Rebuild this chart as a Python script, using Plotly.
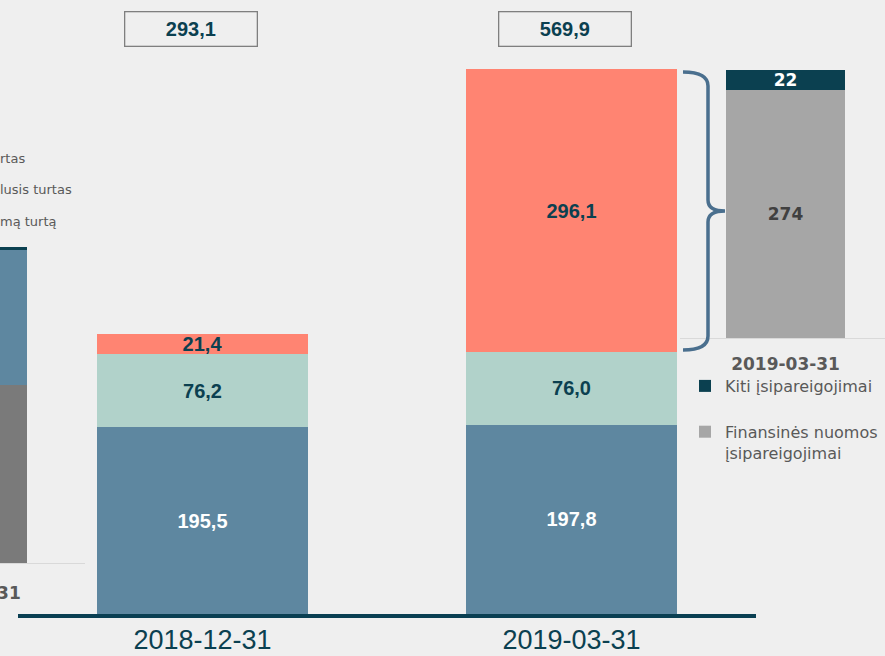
import plotly.graph_objects as go

W, H = 885, 656
def fx(px): return px / W
def fy(py): return 1 - py / H

# ---- data ----
dates = ["2018-12-31", "2019-03-31"]
blue_vals = [195.5, 197.8]
mint_vals = [76.2, 76.0]
salmon_vals = [21.4, 296.1]
totals = [b + m + s for b, m, s in zip(blue_vals, mint_vals, salmon_vals)]

right_cat = ["2019-03-31"]
fin_lease = [274]
other_liab = [22]
liab_names = ["Finansinės nuomos<br>įsipareigojimai", "Kiti įsipareigojimai"]

left_cat = ["2019-03-31"]
left_gray = [196]
left_blue = [149]
left_dark = [3.5]
left_legend = ["rtas", "lusis turtas", "mą turtą"]

BLUE = "#5E87A0"
MINT = "#B1D2CA"
SALMON = "#FF8472"
DARK = "#0B4050"
GRAYTXT = "#595959"

fig = go.Figure()

def main_bar(vals, color, txtcolor):
    fig.add_trace(go.Bar(
        x=dates, y=vals, marker=dict(color=color, line=dict(width=0)),
        width=0.57, texttemplate="%{y:.1f}", textposition="inside",
        insidetextanchor="middle", constraintext="none",
        textfont=dict(family="Liberation Sans, Arial", size=20, color=txtcolor, weight="bold"),
        showlegend=False, xaxis="x", yaxis="y", hoverinfo="skip"))

main_bar(blue_vals, BLUE, "white")
main_bar(mint_vals, MINT, DARK)
main_bar(salmon_vals, SALMON, DARK)

# right small chart
fig.add_trace(go.Bar(
    x=right_cat, y=fin_lease, name=liab_names[0], marker=dict(color="#A6A6A6", line=dict(width=0)),
    width=0.58, texttemplate="%{y:.0f}", textposition="inside", insidetextanchor="middle",
    constraintext="none",
    textfont=dict(family="DejaVu Sans", size=17, color="#404040", weight="bold"),
    xaxis="x2", yaxis="y2", legend="legend2", legendgroup="a", legendrank=2, hoverinfo="skip"))
fig.add_trace(go.Bar(
    x=right_cat, y=other_liab, name=liab_names[1], marker=dict(color=DARK, line=dict(width=0)),
    width=0.58, texttemplate="%{y:.0f}", textposition="inside", insidetextanchor="middle",
    constraintext="none",
    textfont=dict(family="DejaVu Sans", size=17, color="white", weight="bold"),
    xaxis="x2", yaxis="y2", legend="legend2", legendgroup="b", legendrank=1, hoverinfo="skip"))

# left partial chart
for vals, col in [(left_gray, "#7A7A7A"), (left_blue, BLUE), (left_dark, DARK)]:
    fig.add_trace(go.Bar(x=[0], y=vals, marker=dict(color=col, line=dict(width=0)), width=0.6,
                         xaxis="x3", yaxis="y3", showlegend=False, hoverinfo="skip"))

annotations = []
for i, (d, t) in enumerate(zip(dates, totals)):
    annotations.append(dict(
        xref="x", x=d, xshift=[-12, -7][i], yref="paper", y=fy(29),
        text=f"{t:.1f}".replace(".", ","), showarrow=False,
        font=dict(family="Liberation Sans, Arial", size=20, color=DARK, weight="bold"),
        width=131, height=33, bordercolor="#7F7F7F", borderwidth=1.3, borderpad=0,
        xanchor="center", yanchor="middle"))

annotations.append(dict(xref="paper", x=fx(-34), yref="paper", y=fy(593), text=left_cat[0], showarrow=False,
                        font=dict(family="DejaVu Sans", size=17, color=GRAYTXT, weight="bold"),
                        xanchor="center", yanchor="middle"))
for txt, py in zip(left_legend, [158, 190, 222]):
    annotations.append(dict(xref="paper", x=0, yref="paper", y=fy(py), text=txt, showarrow=False,
                            font=dict(family="DejaVu Sans", size=13, color=GRAYTXT),
                            xanchor="left", yanchor="middle", xshift=-2))

# bracket
def P(x, y): return f"{fx(x):.5f},{fy(y):.5f}"
path = (f"M{P(683,72)} Q{P(708,72)} {P(708,86)} L{P(708,200)} Q{P(708,211)} {P(725,211)} "
        f"Q{P(708,211)} {P(708,222)} L{P(708,336)} Q{P(708,350)} {P(683,350)}")
shapes = [dict(type="path", xref="paper", yref="paper", path=path,
               line=dict(color="#4A6F8E", width=3.5))]

fig.update_layout(
    width=W, height=H, margin=dict(l=0, r=0, t=0, b=0),
    paper_bgcolor="#EFEFEF", plot_bgcolor="rgba(0,0,0,0)",
    barmode="stack", separators=",.",
    xaxis=dict(domain=[fx(18), fx(756)], range=[-0.5, 1.5], type="category",
               showline=True, linewidth=4, linecolor="#0A3F52", showgrid=False, zeroline=False,
               ticks="", tickfont=dict(family="Liberation Sans, Arial", size=27, color=DARK),
               ticklabelstandoff=-1),
    yaxis=dict(domain=[fy(614), 1], range=[0, 642], visible=False),
    xaxis2=dict(domain=[fx(680), 1], range=[-0.515, 0.485], type="category", anchor="y2",
                showline=True, linewidth=1, linecolor="#D9D9D9", showgrid=False, zeroline=False,
                ticks="", tickfont=dict(family="DejaVu Sans", size=17, color=GRAYTXT, weight="bold"),
                ticklabelstandoff=11),
    yaxis2=dict(domain=[fy(338), 1], range=[0, 373.3], visible=False, anchor="x2"),
    xaxis3=dict(domain=[0, fx(85)], range=[0.1614, 0.590], anchor="y3",
                showline=True, linewidth=1, linecolor="#D9D9D9", showgrid=False, zeroline=False,
                showticklabels=False, ticks=""),
    yaxis3=dict(domain=[fy(563), 1], range=[0, 621.4], visible=False, anchor="x3"),
    legend2=dict(x=fx(685), y=fy(369), xanchor="left", yanchor="top",
                 font=dict(family="DejaVu Sans", size=16, color=GRAYTXT),
                 bgcolor="rgba(0,0,0,0)", tracegroupgap=22, valign="top", itemwidth=30),
    annotations=annotations, shapes=shapes,
)

fig.write_html("out.html")
